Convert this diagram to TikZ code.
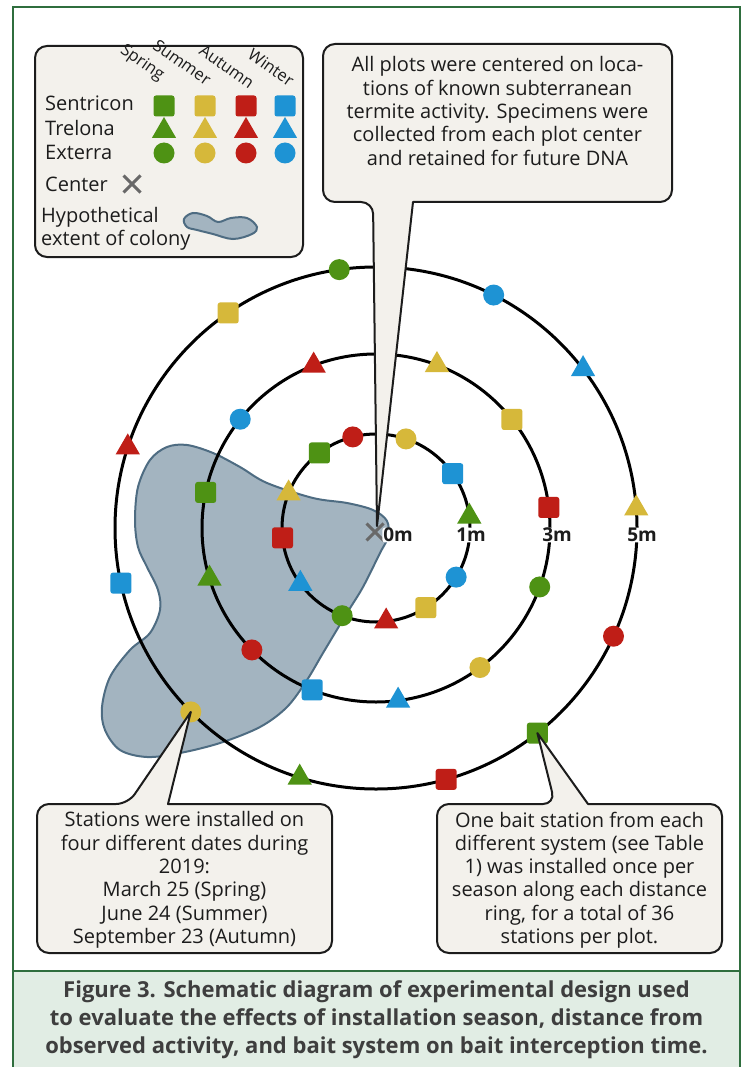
\documentclass[tikz,border=0pt]{standalone}
\usepackage{fontspec}
\setmainfont{Open Sans}
\usetikzlibrary{shapes.geometric,shapes.misc,calc}
\definecolor{gC}{HTML}{4E9214}
\definecolor{yC}{HTML}{D6B83A}
\definecolor{rC}{HTML}{BF1E17}
\definecolor{bC}{HTML}{1E93D4}
\definecolor{paper}{HTML}{F3F1EC}
\definecolor{blobF}{HTML}{A3B4C0}
\definecolor{blobD}{HTML}{4E6C82}
\definecolor{frameC}{HTML}{2F6E3E}
\definecolor{capF}{HTML}{E1EDE4}
\definecolor{ink}{HTML}{1C1C1C}
\definecolor{xgray}{HTML}{686868}
\newcommand{\fsz}[2]{\fontsize{#1}{#2}\selectfont}
\tikzset{
  mksq/.style={rectangle, rounded corners=2.5pt, minimum size=21pt, inner sep=0pt},
  mkci/.style={circle, minimum size=21pt, inner sep=0pt},
  mktri/.style={regular polygon, regular polygon sides=3, minimum size=28pt, inner sep=0pt},
  ring/.style={line width=3pt, black},
  callout/.style={fill=paper, draw=ink, line width=2pt, line join=round},
  lgbox/.style={fill=paper, draw=ink, line width=2pt, rounded corners=12pt},
  txt/.style={text=ink, inner sep=0pt, font=\fsz{20}{23.3}},
  lgtxt/.style={text=ink, inner sep=0pt, font=\fsz{20}{23}, anchor=base west},
  seas/.style={text=ink, inner sep=0pt, font=\fsz{16.5}{20}, rotate=-35, anchor=base east},
  distlbl/.style={text=ink, fill=white, rounded corners=3pt, inner xsep=1pt, inner ysep=0.5pt, font=\fsz{19}{20}\bfseries},
  xmark/.style={cross out, draw=xgray, line width=3pt, minimum size=14pt, inner sep=0pt},
  blob/.style={fill=blobF, draw=blobD, line width=2pt},
}
\begin{document}
\begin{tikzpicture}[x=1pt,y=-1pt]
\useasboundingbox (0,0) rectangle (753,1067);
\fill[white] (0,0) rectangle (753,1067);
% frame and caption
\draw[frameC,line width=1.3pt] (13,1075) -- (13,7) -- (740,7) -- (740,1075);
\filldraw[fill=capF,draw=frameC,line width=1.3pt] (13,971) rectangle (740,1075);
\node[text=ink!85, inner sep=0pt, font=\fsz{22}{28}\bfseries, align=center] (cap) at (376.5,1020)
  {Figure 3. Schematic diagram of experimental design used\\to evaluate the effects of installation season, distance from\\observed activity, and bait system on bait interception time.};

% hypothetical colony
\draw[blob] plot[smooth cycle, tension=0.55] coordinates {
 (187,445) (213,453) (240,467) (267,483) (313,498) (347,503) (373,510) (387,521) (388,537) (380,553)
 (363,587) (347,613) (323,653) (307,680) (287,707) (260,727) (220,743) (180,753) (147,757)
 (120,750) (105,730) (102,707) (110,677) (130,650) (150,633) (160,610) (158,590) (147,567)
 (138,547) (135,520) (138,487) (150,460) (167,447)};

\coordinate (O) at (376,528);
% rings
\draw[ring] (O) circle[radius=94];
\draw[ring] (O) circle[radius=174];
\draw[ring] (O) circle[radius=261];

\begin{scope}[shift={(O)}]
% ring 1 m
\node[mksq,fill=gC] (a1) at (-127:94) {};
\node[mkci,fill=rC] (a2) at (-104.3:94) {};
\node[mkci,fill=yC] (a3) at (-71.4:94) {};
\node[mksq,fill=bC] (a4) at (-35.3:94) {};
\node[mktri,fill=gC] (a5) at (-7:94) {};
\node[mkci,fill=bC] (a6) at (31.5:94) {};
\node[mksq,fill=yC] (a7) at (58:94) {};
\node[mktri,fill=rC] (a8) at (83.8:94) {};
\node[mkci,fill=gC] (a9) at (111.1:94) {};
\node[mktri,fill=bC] (a10) at (143.6:94) {};
\node[mksq,fill=rC] (a11) at (174:94) {};
\node[mktri,fill=yC] (a12) at (201.6:94) {};
% ring 3 m
\node[mktri,fill=yC] (b1) at (-69.5:174) {};
\node[mksq,fill=yC] (b2) at (-38.6:174) {};
\node[mksq,fill=rC] (b3) at (-6.8:174) {};
\node[mkci,fill=gC] (b4) at (19.8:174) {};
\node[mkci,fill=yC] (b5) at (53.3:174) {};
\node[mktri,fill=bC] (b6) at (82.7:174) {};
\node[mksq,fill=bC] (b7) at (111.5:174) {};
\node[mkci,fill=rC] (b8) at (135.5:174) {};
\node[mktri,fill=gC] (b9) at (163.1:174) {};
\node[mksq,fill=gC] (b10) at (191.8:174) {};
\node[mkci,fill=bC] (b11) at (218.7:174) {};
\node[mktri,fill=rC] (b12) at (249:174) {};
% ring 5 m
\node[mkci,fill=bC] (c1) at (-63.2:261) {};
\node[mktri,fill=bC] (c2) at (-37.5:261) {};
\node[mktri,fill=yC] (c3) at (-4.3:261) {};
\node[mkci,fill=rC] (c4) at (24.5:261) {};
\node[mksq,fill=gC] (c5) at (51.8:261) {};
\node[mksq,fill=rC] (c6) at (74.4:261) {};
\node[mktri,fill=gC] (c7) at (107:261) {};
\node[mkci,fill=yC] (c8) at (135.2:261) {};
\node[mksq,fill=bC] (c9) at (167.8:261) {};
\node[mktri,fill=rC] (c10) at (198:261) {};
\node[mksq,fill=yC] (c11) at (235.5:261) {};
\node[mkci,fill=gC] (c12) at (261.9:261) {};
\end{scope}

% top callout
\draw[callout] (373,202) -- (377,526) -- (413,202) [rounded corners=12pt] -- (672,202) -- (672,44) -- (323,44) -- (323,202) -- cycle;
\node[txt, align=center] (n1) at (497.5,111)
 {All plots were centered on loca-\\tions of known subterranean\\termite activity. Specimens were\\collected from each plot center\\and retained for future DNA};
% bottom-left callout
\draw[callout] (128,804) -- (c8.center) -- (168,804) [rounded corners=12pt] -- (332,804) -- (332,953) -- (37,953) -- (37,804) -- cycle;
\node[txt, align=center] (n2) at (184.5,880)
 {Stations were installed on\\four different dates during\\2019:\\March 25 (Spring)\\June 24 (Summer)\\September 23 (Autumn)};
% bottom-right callout
\draw[callout] (555,804) -- (c5.center) -- (588,804) [rounded corners=12pt] -- (722,804) -- (722,953) -- (437,953) -- (437,804) -- cycle;
\node[txt, align=center] (n3) at (579.5,880)
 {One bait station from each\\different system (see Table\\1) was installed once per\\season along each distance\\ring, for a total of 36\\stations per plot.};

% centre mark and distance labels
\node[xmark] (ctr) at (375,532) {};
\node[distlbl] (l0) at (398,535) {0m};
\node[distlbl] (l1) at (471,535) {1m};
\node[distlbl] (l3) at (557,535) {3m};
\node[distlbl] (l5) at (642,535) {5m};

% legend
\draw[lgbox] (35,46) rectangle (303,257);
\node[seas] (sp) at (160,81) {Spring};
\node[seas] (su) at (206,86) {Summer};
\node[seas] (au) at (249,89) {Autumn};
\node[seas] (wi) at (289,87) {Winter};
\node[lgtxt] (ls) at (45,111) {Sentricon};
\node[lgtxt] (lt) at (45,136) {Trelona};
\node[lgtxt] (le) at (45,160) {Exterra};
\node[lgtxt] (lc) at (45,192) {Center};
\node[lgtxt] (lh1) at (41,223) {Hypothetical};
\node[lgtxt] (lh2) at (41,246) {extent of colony};
\foreach \x/\c [count=\i] in {164/gC,205/yC,246/rC,285/bC}{
  \node[mksq,fill=\c] (ls\i) at (\x,106) {};
  \node[mktri,fill=\c] (lt\i) at (\x,131) {};
  \node[mkci,fill=\c] (le\i) at (\x,153) {};
}
\node[xmark] (lx) at (132,184) {};
\draw[blob] plot[smooth cycle, tension=0.6] coordinates {
 (184,219) (193,213) (207,216) (218,222) (231,218) (247,218) (257,227) (252,234) (233,239) (213,234) (197,230) (187,227)};
\end{tikzpicture}
\end{document}
